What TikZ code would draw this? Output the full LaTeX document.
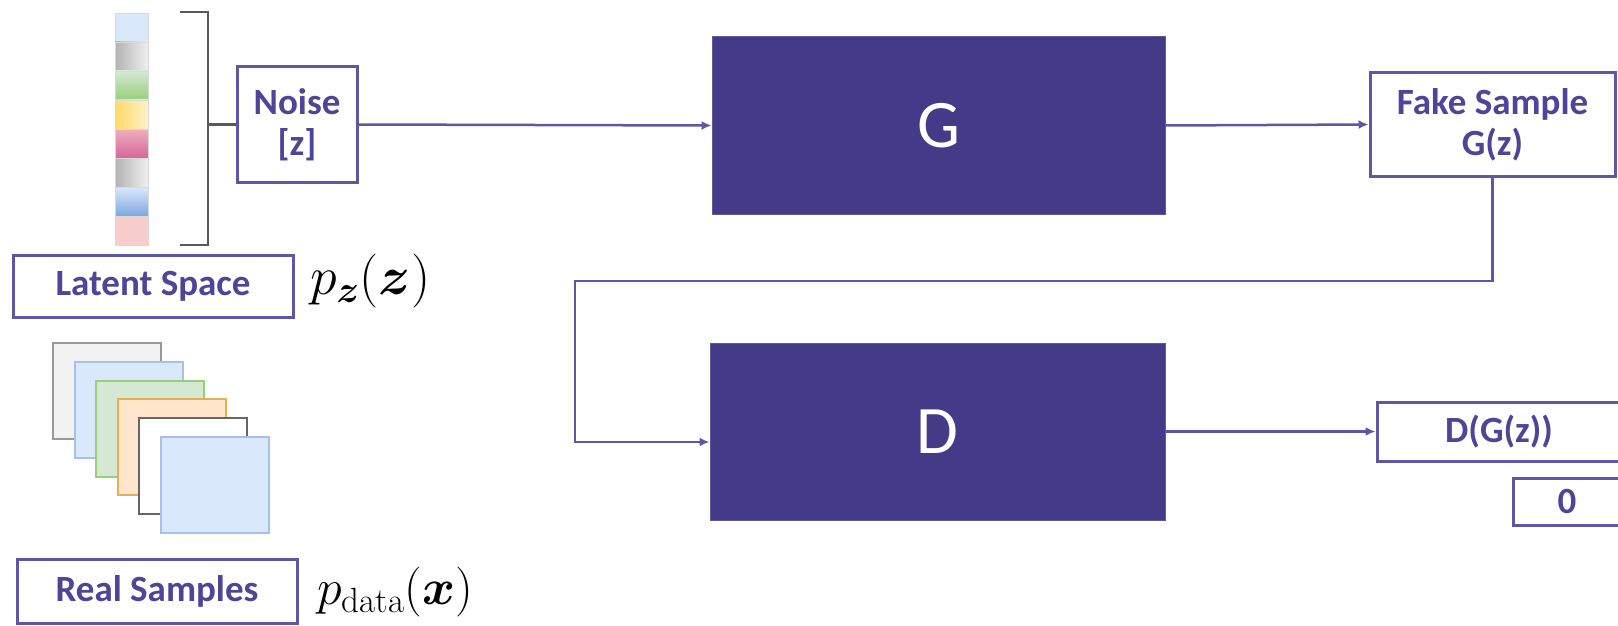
\RequirePackage{fix-cm}
\documentclass[tikz,border=0pt]{standalone}
\usepackage{fontspec}
\setsansfont{Carlito}
\usepackage{bm}
\usetikzlibrary{arrows.meta,calc}
\definecolor{gan}{RGB}{67,59,136}
\definecolor{ganline}{RGB}{96,86,168}
\definecolor{gantext}{RGB}{78,68,152}
\definecolor{lblue}{HTML}{DAE8FC}
\definecolor{mblue}{HTML}{7EA6E0}
\definecolor{lgreen}{HTML}{D5E8D4}
\definecolor{mgreen}{HTML}{97D077}
\definecolor{lyellow}{HTML}{FFF2CC}
\definecolor{myellow}{HTML}{FFD966}
\definecolor{lpink}{HTML}{F8CECC}
\definecolor{mpink}{HTML}{D6679A}
\definecolor{lorange}{HTML}{FFE6CC}
\definecolor{morange}{HTML}{E6B050}
\begin{document}
\begin{tikzpicture}[x=1pt,y=-1pt,
  wbox/.style={draw=ganline,line width=3pt,fill=white,text=gantext,
    font=\sffamily\bfseries\fontsize{37}{41}\selectfont,align=center,inner sep=0pt},
  dbox/.style={fill=gan,draw=gan!85!white,line width=1pt,text=white,
    font=\sffamily\fontsize{68}{72}\selectfont,inner sep=0pt},
  conn/.style={draw=ganline,line width=2.5pt,-{Latex[length=10pt,width=9pt]}},
  seg/.style={draw=black!15,line width=0.8pt},
  card/.style={line width=2pt},
  mathlbl/.style={inner sep=0pt,anchor=west},
]
\useasboundingbox (0,0) rectangle (1618,626);

% latent vector
\path[seg,fill=lblue] (115,13) rectangle (148,42);
\path[seg,left color=black!30,right color=black!6] (115,42) rectangle (148,71);
\path[seg,top color=lgreen,bottom color=mgreen] (115,71) rectangle (148,100);
\path[seg,left color=myellow,right color=lyellow] (115,100) rectangle (148,129);
\path[seg,top color=lpink!70!mpink,bottom color=mpink] (115,129) rectangle (148,158);
\path[seg,left color=black!30,right color=black!6] (115,158) rectangle (148,187);
\path[seg,top color=lblue,bottom color=mblue] (115,187) rectangle (148,216);
\path[seg,fill=lpink] (115,216) rectangle (148,245);

% bracket
\draw[black!65,line width=2.5pt] (180,12) -- (208,12) -- (208,245) -- (180,245);
\coordinate (bm) at (208,124.5);

% nodes
\node[wbox,minimum width=120,minimum height=115] (noise) at (297,124.5) {Noise\\{[z]}};
\node[wbox,minimum width=280,minimum height=62] (latent) at (153,286) {Latent Space};
\node[wbox,minimum width=280,minimum height=64] (real) at (157,591) {Real Samples};
\node[dbox,minimum width=453,minimum height=177] (G) at (938.5,125.5) {G};
\node[dbox,minimum width=455,minimum height=177] (D) at (937.5,431.5) {D};
\node[wbox,minimum width=245,minimum height=103] (fake) at (1492.5,124.5) {Fake Sample\\G(z)};
\node[wbox,minimum width=244,minimum height=59] (dgz) at (1499,431.5) {D(G(z))};
\node[wbox,minimum width=108,minimum height=47] (zero) at (1567,501.5) {0};

\node[mathlbl,font=\fontsize{54}{60}\selectfont] (pz) at (310,281) {$p_{\bm z}(\bm z)$};
\node[mathlbl,font=\fontsize{50}{56}\selectfont] (pdata) at (317,592) {$p_{\mathrm{data}}(\bm x)$};

% real sample cards
\path[card,draw=black!40,fill=black!5] (53,343) rectangle ++(108,96);
\path[card,draw=mblue!70,fill=lblue] (74.6,361.8) rectangle ++(108,96);
\path[card,draw=mgreen,fill=lgreen] (96.2,380.6) rectangle ++(108,96);
\path[card,draw=morange,fill=lorange] (117.8,399.4) rectangle ++(108,96);
\path[card,draw=black!60,fill=white] (139.4,418.2) rectangle ++(108,96);
\path[card,draw=mblue!70,fill=lblue] (161,437) rectangle ++(108,96);

% connectors
\draw[black!65,line width=2.5pt] (bm) -- (noise.west);
\draw[conn] (noise.east) -- (G.west);
\draw[conn] (G.east) -- (fake.west);
\coordinate (turn) at (575,281);
\draw[conn] (fake.south) |- (turn) |- ($(D.west)+(0,10.5)$);
\draw[conn] (D.east) -- (dgz.west);
\end{tikzpicture}
\end{document}
